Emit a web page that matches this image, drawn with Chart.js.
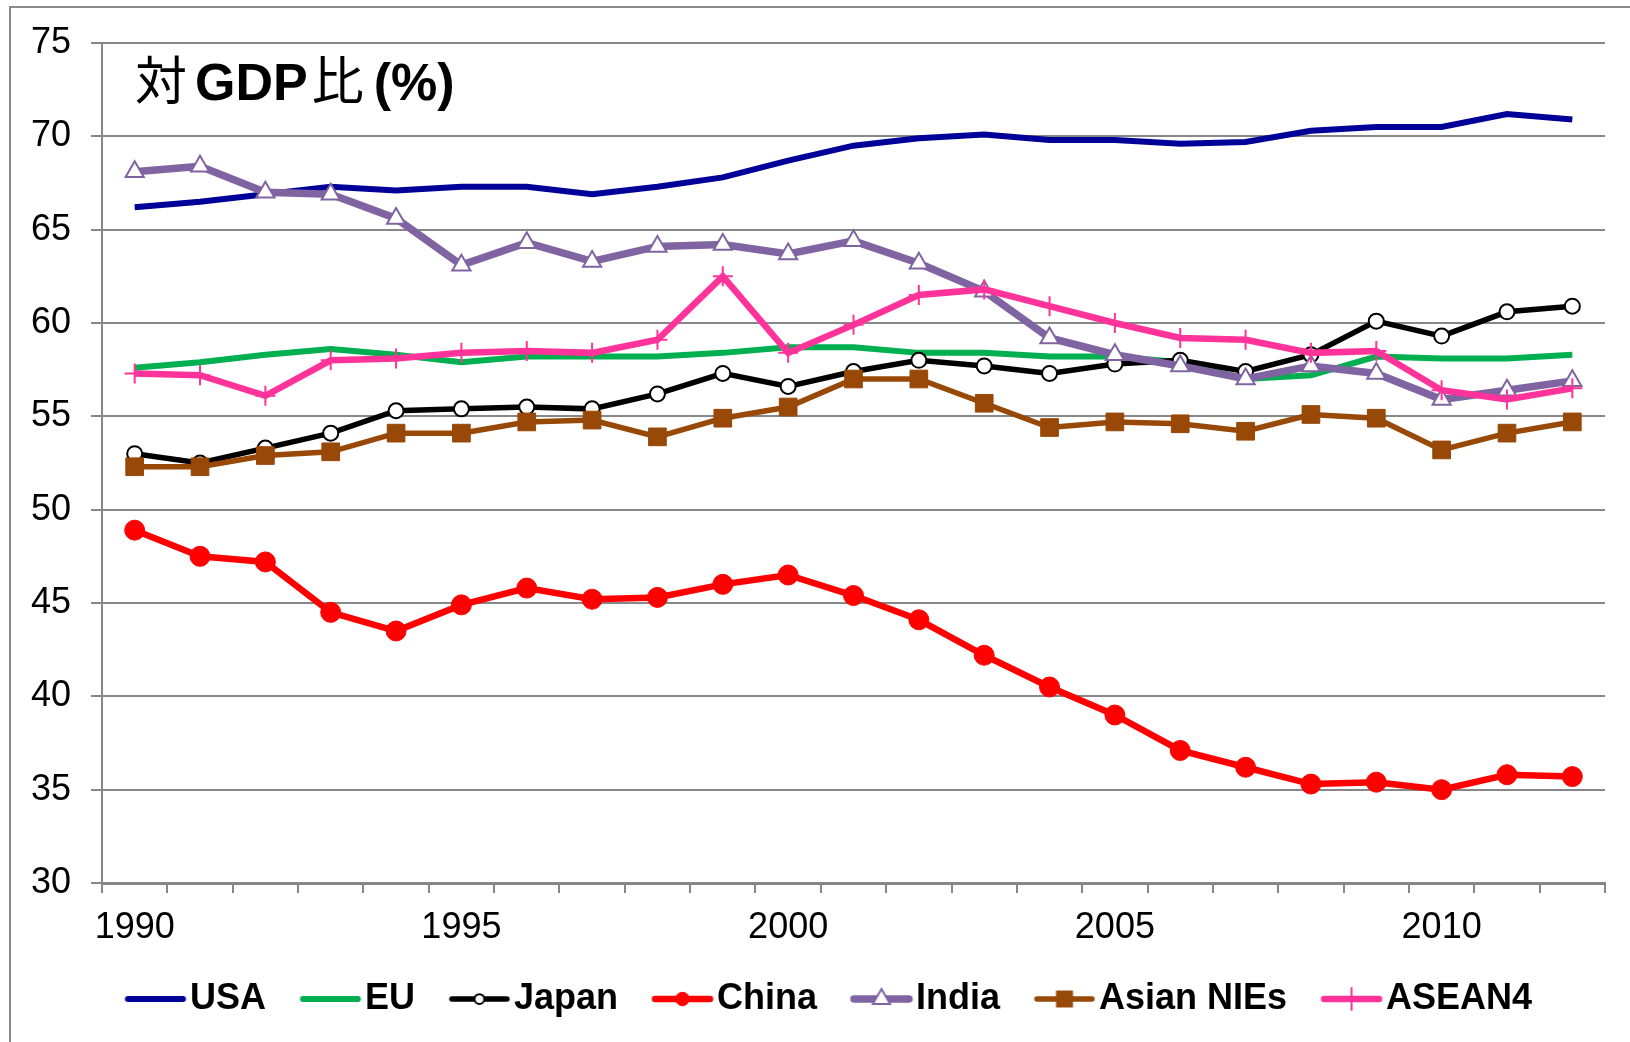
<!DOCTYPE html>
<html>
<head>
<meta charset="utf-8">
<script src="https://cdn.jsdelivr.net/npm/chart.js@4.4.1/dist/chart.umd.min.js"></script>
<style>
  html, body { margin: 0; padding: 0; background: #fff; }
  #wrap { position: relative; width: 1630px; height: 1042px; }
</style>
</head>
<body>
<div id="wrap"><canvas id="chart" width="1630" height="1042"></canvas></div>
<script>
// Share of GDP (%), 1990-2012

const years = ["1990", "1991", "1992", "1993", "1994", "1995", "1996", "1997", "1998", "1999", "2000",
  "2001", "2002", "2003", "2004", "2005", "2006", "2007", "2008", "2009", "2010", "2011", "2012"];
const labeledYears = ["1990", "1995", "2000", "2005", "2010"];

const usa = [66.2, 66.5, 66.9, 67.3, 67.1, 67.3, 67.3, 66.9, 67.3, 67.8, 68.7, 69.5, 69.9, 70.1, 69.8, 69.8, 69.6, 69.7, 70.3, 70.5, 70.5, 71.2, 70.9];
const eu = [57.6, 57.9, 58.3, 58.6, 58.3, 57.9, 58.2, 58.2, 58.2, 58.4, 58.7, 58.7, 58.4, 58.4, 58.2, 58.2, 57.9, 57.0, 57.2, 58.2, 58.1, 58.1, 58.3];
const japan = [53.0, 52.5, 53.3, 54.1, 55.3, 55.4, 55.5, 55.4, 56.2, 57.3, 56.6, 57.4, 58.0, 57.7, 57.3, 57.8, 58.0, 57.4, 58.3, 60.1, 59.3, 60.6, 60.9];
const china = [48.9, 47.5, 47.2, 44.5, 43.5, 44.9, 45.8, 45.2, 45.3, 46.0, 46.5, 45.4, 44.1, 42.2, 40.5, 39.0, 37.1, 36.2, 35.3, 35.4, 35.0, 35.8, 35.7];
const india = [68.1, 68.4, 67.0, 66.9, 65.6, 63.1, 64.3, 63.3, 64.1, 64.2, 63.7, 64.4, 63.2, 61.7, 59.2, 58.3, 57.7, 57.0, 57.7, 57.3, 55.9, 56.4, 56.9];
const asianNies = [52.3, 52.3, 52.9, 53.1, 54.1, 54.1, 54.7, 54.8, 53.9, 54.9, 55.5, 57.0, 57.0, 55.7, 54.4, 54.7, 54.6, 54.2, 55.1, 54.9, 53.2, 54.1, 54.7];
const asean4 = [57.3, 57.2, 56.1, 58.0, 58.1, 58.4, 58.5, 58.4, 59.1, 62.5, 58.4, 59.9, 61.5, 61.8, 60.9, 60.0, 59.2, 59.1, 58.4, 58.5, 56.4, 55.9, 56.5];

const FONT = "'Liberation Sans', Arial, 'Noto Sans CJK JP', sans-serif";
const GRID = "#878787";

Chart.defaults.font.family = FONT;
Chart.defaults.color = "#000";

const seriesDefs = [
  { label: "USA", data: usa, color: "#000099", width: 6, style: false },
  { label: "EU", data: eu, color: "#00B050", width: 6, style: false },
  { label: "Japan", data: japan, color: "#000000", width: 5.5, style: "circle", radius: 7.5, fill: "#ffffff", bw: 2, legendRadius: 6.5 },
  { label: "China", data: china, color: "#FF0000", width: 6.5, style: "circle", radius: 10, fill: "#FF0000", bw: 1, legendRadius: 9 },
  { label: "India", data: india, color: "#8064A2", width: 7.5, style: "triangle", radius: 10.5, fill: "#ffffff", bw: 2, legendRadius: 10 },
  { label: "Asian NIEs", data: asianNies, color: "#984807", width: 5.5, style: "rect", radius: 12.5, fill: "#984807", bw: 1, legendRadius: 12 },
  { label: "ASEAN4", data: asean4, color: "#FF3399", width: 6.5, style: "cross", radius: 10, fill: "#FF3399", bw: 2, legendRadius: 11 }
];

// legend swatch: a short line with the marker in the middle
function legendSwatch(s) {
  const c = document.createElement("canvas");
  c.width = 110;
  c.height = 30;
  const g = c.getContext("2d");
  const x0 = 46.5, x1 = 101.5, y = 15, cx = (x0 + x1) / 2;
  g.lineCap = "round";
  g.strokeStyle = s.color;
  g.lineWidth = s.width;
  g.beginPath();
  g.moveTo(x0, y);
  g.lineTo(x1, y);
  g.stroke();
  if (s.style) {
    const r = s.legendRadius;
    g.lineWidth = s.bw;
    g.fillStyle = s.fill;
    g.beginPath();
    if (s.style === "circle") {
      g.arc(cx, y, r * 0.75, 0, Math.PI * 2);
      g.fill();
      g.stroke();
    } else if (s.style === "triangle") {
      g.moveTo(cx, y - r);
      g.lineTo(cx + r * 0.866, y + r * 0.5);
      g.lineTo(cx - r * 0.866, y + r * 0.5);
      g.closePath();
      g.fill();
      g.stroke();
    } else if (s.style === "rect") {
      const h = r * Math.SQRT1_2;
      g.fillRect(cx - h, y - h, 2 * h, 2 * h);
    } else if (s.style === "cross") {
      g.moveTo(cx, y - r);
      g.lineTo(cx, y + r);
      g.stroke();
    }
  }
  return c;
}

const frame = {
  id: "frame",
  afterLayout(chart) {
    // nudge the legend row a little to the right
    chart.legend.left += 8;
    chart.legend.right += 8;
  },
  beforeDraw(chart) {
    const ctx = chart.ctx;
    ctx.save();
    ctx.strokeStyle = "#8a8a8a";
    ctx.lineWidth = 2;
    ctx.beginPath();
    ctx.moveTo(10, 1042);
    ctx.lineTo(10, 7);
    ctx.lineTo(1630, 7);
    ctx.stroke();
    ctx.restore();
  },
  afterDatasetsDraw(chart) {
    const ctx = chart.ctx;
    const parts = [
      ["対", "400 52px 'Noto Sans CJK JP', sans-serif", 8],
      ["GDP", "bold 52px " + FONT, 4],
      ["比", "400 52px 'Noto Sans CJK JP', sans-serif", 10],
      ["(%)", "bold 52px " + FONT, 0]
    ];
    ctx.save();
    ctx.fillStyle = "#000";
    ctx.textBaseline = "alphabetic";
    let x = 135;
    for (const [t, f, gap] of parts) {
      ctx.font = f;
      ctx.fillText(t, x, 100);
      x += ctx.measureText(t).width + gap;
    }
    ctx.restore();
  }
};

new Chart(document.getElementById("chart"), {
  type: "line",
  data: {
    labels: years,
    datasets: seriesDefs.map((s, i) => ({
      label: s.label,
      data: s.data,
      borderColor: s.color,
      backgroundColor: s.fill || s.color,
      borderWidth: s.width,
      pointStyle: s.style || "circle",
      pointRadius: s.style ? s.radius : 0,
      pointBorderColor: s.color,
      pointBackgroundColor: s.fill || s.color,
      pointBorderWidth: s.bw || 0,
      tension: 0,
      fill: false,
      order: seriesDefs.length - i,
      swatch: legendSwatch(s)
    }))
  },
  options: {
    responsive: false,
    animation: false,
    layout: { padding: { left: 12, right: 25, top: 43, bottom: 15 } },
    plugins: {
      legend: {
        position: "bottom",
        labels: {
          usePointStyle: true,
          pointStyleWidth: 71,
          padding: 10,
          color: "#000",
          font: { size: 36, weight: "bold" },
          generateLabels: (chart) => chart.data.datasets.map((d, i) => ({
            text: d.label,
            datasetIndex: i,
            pointStyle: d.swatch,
            fillStyle: d.borderColor,
            strokeStyle: d.borderColor,
            lineWidth: 0,
            hidden: false
          }))
        }
      },
      tooltip: { enabled: false }
    },
    scales: {
      x: {
        offset: true,
        afterFit: (scale) => { scale.height = 88; },
        grid: { offset: true, drawOnChartArea: false, drawTicks: true, tickLength: 10, color: GRID, lineWidth: 2 },
        border: { color: GRID, width: 3 },
        ticks: {
          autoSkip: false,
          maxRotation: 0,
          padding: 13,
          color: "#000",
          font: { size: 36 },
          callback: function (v) {
            const y = this.getLabelForValue(v);
            return labeledYears.includes(y) ? y : "";
          }
        }
      },
      y: {
        min: 30,
        max: 75,
        afterFit: (scale) => { scale.width = 90; },
        grid: { color: GRID, lineWidth: 2, tickLength: 11 },
        border: { color: GRID, width: 2 },
        ticks: { stepSize: 5, padding: 20, color: "#000", font: { size: 36 } }
      }
    }
  },
  plugins: [frame]
});
</script>
</body>
</html>
